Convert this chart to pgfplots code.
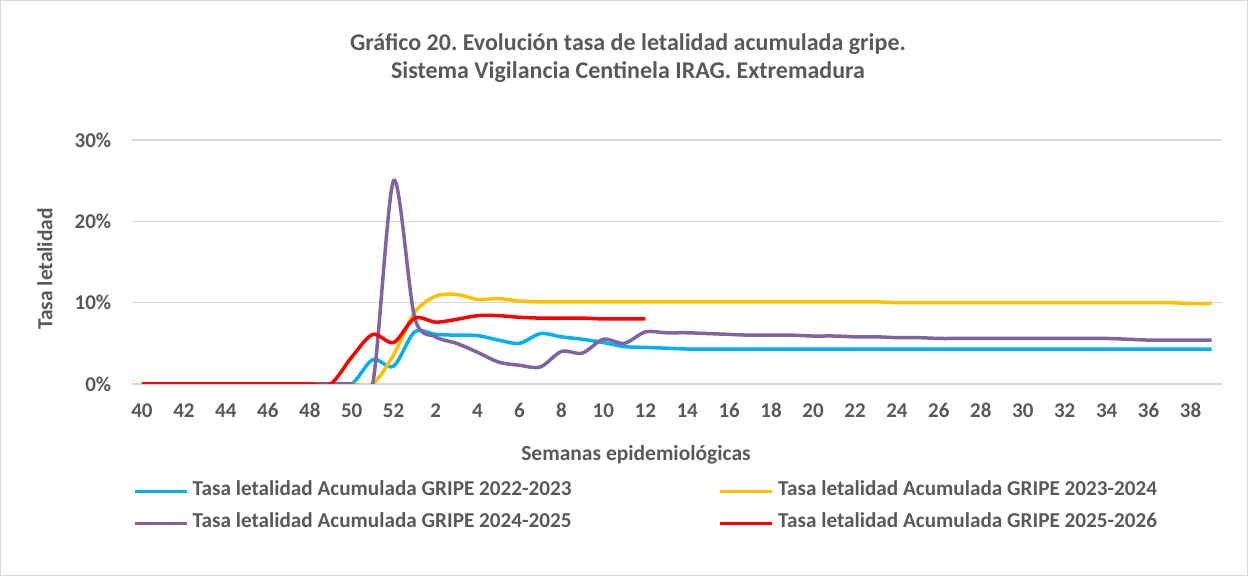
\documentclass[border=0pt]{standalone}
\usepackage{fontspec}
\setmainfont{Carlito}
\usepackage{pgfplots}
\pgfplotsset{compat=1.18}
\definecolor{cA}{HTML}{00B0F0}
\definecolor{cB}{HTML}{FFC000}
\definecolor{cC}{HTML}{8064A2}
\definecolor{cD}{HTML}{FF0000}
\definecolor{txt}{HTML}{595959}
\definecolor{gridc}{HTML}{D9D9D9}
\frenchspacing
\begin{document}
\begin{tikzpicture}
\path[use as bounding box] (0,0) rectangle (1248bp,576bp);
\draw[gridc, line width=1bp] (0.5bp,0.5bp) rectangle (1247.5bp,575.5bp);
\begin{axis}[
  at={(131.5bp,192bp)}, anchor=south west,
  scale only axis, width=1090.5bp, height=244bp,
  xmin=-0.5, xmax=51.5, ymin=0, ymax=30,
  axis line style={draw=none}, tick style={draw=none},
  ymajorgrids, grid style={gridc, line width=1.2bp},
  xtick={0,2,...,50},
  xticklabels={40,42,44,46,48,50,52,2,4,6,8,10,12,14,16,18,20,22,24,26,28,30,32,34,36,38},
  ytick={0,10,20,30},
  yticklabels={0\%,10\%,20\%,30\%},
  major tick length=0pt,
  tick label style={font=\fontsize{21bp}{23bp}\selectfont\bfseries, text=txt},
  xticklabel style={anchor=base, inner sep=0pt, yshift=-34bp},
  yticklabel style={anchor=east, inner sep=0pt, xshift=-20bp},
  legend columns=2,
  legend style={draw=none, fill=none, at={(0.0014,-0.40)}, anchor=north west,
    inner sep=0pt, row sep=13bp,
    nodes={inner sep=0pt, text=txt, font=\fontsize{21.2bp}{23bp}\selectfont\bfseries, text height=14bp, text depth=5bp},
    /tikz/every odd column/.append style={column sep=4bp}},
  legend image code/.code={\draw[#1, line width=3.5bp] (0bp,0bp) -- (52bp,0bp);},
  every axis plot/.append style={line width=3.5bp, smooth, tension=0.5, mark=none},
]
\addplot[cA] coordinates {
(0,0)(1,0)(2,0)(3,0)(4,0)(5,0)(6,0)(7,0)(8,0)(9,0)(10,0)
(11,3.0)(12,2.2)(13,6.4)(14,6.1)(15,6.0)(16,5.95)(17,5.4)(18,5.0)(19,6.2)(20,5.8)
(21,5.5)(22,5.1)(23,4.6)(24,4.5)(25,4.4)(26,4.3)(27,4.3)(28,4.3)(29,4.3)(30,4.3)
(31,4.3)(32,4.3)(33,4.3)(34,4.3)(35,4.3)(36,4.3)(37,4.3)(38,4.3)(39,4.3)(40,4.3)
(41,4.3)(42,4.3)(43,4.3)(44,4.3)(45,4.3)(46,4.3)(47,4.3)(48,4.3)(49,4.3)(50,4.3)(51,4.3)};
\addlegendentry{\makebox[526bp][l]{Tasa letalidad Acumulada GRIPE 2022-2023}}
\addplot[cB] coordinates {
(0,0)(1,0)(2,0)(3,0)(4,0)(5,0)(6,0)(7,0)(8,0)(9,0)(10,0)
(11,0)(12,3.6)(13,8.8)(14,10.8)(15,11.0)(16,10.4)(17,10.5)(18,10.2)(19,10.1)(20,10.1)
(21,10.1)(22,10.1)(23,10.1)(24,10.1)(25,10.1)(26,10.1)(27,10.1)(28,10.1)(29,10.1)(30,10.1)
(31,10.1)(32,10.1)(33,10.1)(34,10.1)(35,10.1)(36,10.0)(37,10.0)(38,10.0)(39,10.0)(40,10.0)
(41,10.0)(42,10.0)(43,10.0)(44,10.0)(45,10.0)(46,10.0)(47,10.0)(48,10.0)(49,10.0)(50,9.9)(51,9.9)};
\addlegendentry{\makebox[526bp][l]{Tasa letalidad Acumulada GRIPE 2023-2024}}
\addplot[cC] coordinates {
(0,0)(1,0)(2,0)(3,0)(4,0)(5,0)(6,0)(7,0)(8,0)(9,0)(10,0)
(11,0)(12,25.0)(13,8.2)(14,5.8)(15,5.0)(16,3.9)(17,2.7)(18,2.3)(19,2.1)(20,4.0)
(21,3.8)(22,5.5)(23,5.0)(24,6.4)(25,6.3)(26,6.3)(27,6.2)(28,6.1)(29,6.0)(30,6.0)
(31,6.0)(32,5.9)(33,5.9)(34,5.8)(35,5.8)(36,5.7)(37,5.7)(38,5.6)(39,5.6)(40,5.6)
(41,5.6)(42,5.6)(43,5.6)(44,5.6)(45,5.6)(46,5.6)(47,5.5)(48,5.4)(49,5.4)(50,5.4)(51,5.4)};
\addlegendentry{\makebox[526bp][l]{Tasa letalidad Acumulada GRIPE 2024-2025}}
\addplot[cD] coordinates {
(0,0)(1,0)(2,0)(3,0)(4,0)(5,0)(6,0)(7,0)(8,0)(9,0)
(10,3.3)(11,6.1)(12,5.1)(13,8.1)(14,7.6)(15,7.95)(16,8.4)(17,8.4)(18,8.2)(19,8.1)
(20,8.1)(21,8.1)(22,8.0)(23,8.0)(24,8.0)};
\addlegendentry{\makebox[526bp][l]{Tasa letalidad Acumulada GRIPE 2025-2026}}
\end{axis}
\node[align=center, text=txt, font=\fontsize{24bp}{28bp}\selectfont\bfseries] at (628bp,518bp)
  {Gráfico 20. Evolución tasa de letalidad acumulada gripe.\\Sistema Vigilancia Centinela IRAG. Extremadura};
\node[rotate=90, text=txt, font=\fontsize{21.5bp}{23bp}\selectfont\bfseries] at (45bp,307bp) {Tasa letalidad};
\node[text=txt, font=\fontsize{21.5bp}{23bp}\selectfont\bfseries] at (636bp,121bp) {Semanas epidemiológicas};
\end{tikzpicture}
\end{document}
